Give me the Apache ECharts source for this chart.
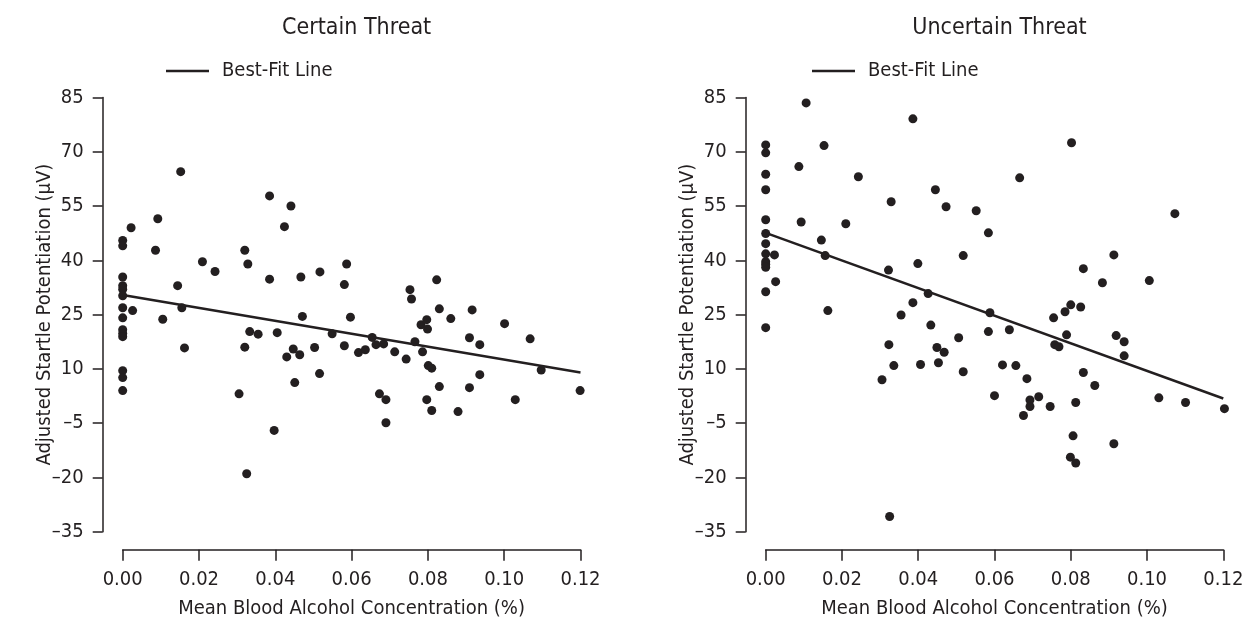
<!DOCTYPE html>
<html>
<head>
<meta charset="utf-8">
<script src="https://cdn.jsdelivr.net/npm/echarts@6/dist/echarts.min.js"></script>
<style>
  html, body { margin: 0; padding: 0; background: #fff; }
  #chart { width: 1252px; height: 627px; }
</style>
</head>
<body>
<div id="chart"></div>
<script>
// panel titles
const panelTitles = ["Certain Threat", "Uncertain Threat"];

// [BAC, startle]
const certainPoints = [
    [0, 45.5], [0, 44.0], [0, 35.4], [0, 33.0], [0, 32.0], [0, 30.2], [0, 26.9], [0, 24.1],
    [0, 20.8], [0, 19.8], [0, 18.9], [0, 9.5], [0, 7.6], [0, 4.0],
    [0.0022, 49.0], [0.0026, 26.1], [0.0086, 42.8], [0.0092, 51.5], [0.0105, 23.7],
    [0.0144, 33.0], [0.0152, 64.5], [0.0155, 26.9], [0.0162, 15.8], [0.0209, 39.6],
    [0.0242, 36.9], [0.0305, 3.1], [0.0320, 42.8], [0.0320, 16.0], [0.0325, -19.0],
    [0.0328, 39.0], [0.0333, 20.3], [0.0355, 19.6], [0.0385, 57.8], [0.0385, 34.8],
    [0.0397, -7.0], [0.0405, 20.0], [0.0424, 49.3], [0.0430, 13.3], [0.0441, 55.0],
    [0.0447, 15.5], [0.0451, 6.2], [0.0464, 13.9], [0.0467, 35.4], [0.0471, 24.5],
    [0.0503, 15.9], [0.0516, 8.7], [0.0517, 36.8], [0.0549, 19.7], [0.0581, 33.3],
    [0.0581, 16.4], [0.0587, 39.0], [0.0597, 24.3], [0.0618, 14.5], [0.0636, 15.3],
    [0.0654, 18.7], [0.0664, 16.7], [0.0673, 3.1], [0.0684, 16.9], [0.0690, 1.5],
    [0.0690, -4.9], [0.0713, 14.7], [0.0743, 12.7], [0.0753, 31.9], [0.0757, 29.3],
    [0.0766, 17.5], [0.0782, 22.2], [0.0786, 14.7], [0.0797, 23.6], [0.0797, 1.5],
    [0.0799, 21.0], [0.0801, 10.9], [0.0810, 10.2], [0.0810, -1.5], [0.0823, 34.6],
    [0.0830, 26.6], [0.0830, 5.1], [0.0860, 23.9], [0.0879, -1.8], [0.0909, 18.6],
    [0.0909, 4.8], [0.0916, 26.3], [0.0936, 16.7], [0.0936, 8.4], [0.1001, 22.5],
    [0.1029, 1.5], [0.1068, 18.3], [0.1097, 9.7], [0.1199, 4.0]
];

const uncertainPoints = [
    [0, 71.9], [0, 69.7], [0, 63.8], [0, 59.5], [0, 51.2], [0, 47.4], [0, 44.6], [0, 41.8],
    [0, 39.6], [0, 38.9], [0, 38.1], [0, 31.3], [0, 21.4],
    [0.0023, 41.5], [0.0026, 34.1], [0.0087, 65.9], [0.0093, 50.6], [0.0106, 83.5],
    [0.0146, 45.6], [0.0153, 71.7], [0.0156, 41.3], [0.0163, 26.1], [0.0210, 50.1],
    [0.0243, 63.1], [0.0305, 7.0], [0.0322, 37.3], [0.0323, 16.7], [0.0325, -30.8],
    [0.0329, 56.2], [0.0336, 10.9], [0.0355, 24.9], [0.0386, 79.1], [0.0386, 28.3],
    [0.0399, 39.1], [0.0406, 11.2], [0.0426, 30.8], [0.0433, 22.1], [0.0445, 59.5],
    [0.0449, 15.9], [0.0453, 11.7], [0.0468, 14.6], [0.0473, 54.8], [0.0506, 18.6],
    [0.0518, 41.3], [0.0518, 9.2], [0.0552, 53.7], [0.0584, 47.6], [0.0584, 20.3],
    [0.0588, 25.5], [0.0600, 2.6], [0.0621, 11.1], [0.0639, 20.8], [0.0656, 10.9],
    [0.0666, 62.8], [0.0676, -2.9], [0.0685, 7.3], [0.0693, 1.4], [0.0693, -0.4],
    [0.0716, 2.3], [0.0746, -0.4], [0.0755, 24.1], [0.0758, 16.7], [0.0769, 16.1],
    [0.0785, 25.8], [0.0789, 19.4], [0.0799, -14.4], [0.0800, 27.7], [0.0802, 72.5],
    [0.0806, -8.5], [0.0813, 0.7], [0.0813, -16.0], [0.0826, 27.1], [0.0833, 37.7],
    [0.0833, 9.0], [0.0863, 5.4], [0.0883, 33.8], [0.0913, 41.5], [0.0913, -10.7],
    [0.0919, 19.2], [0.0940, 17.5], [0.0940, 13.6], [0.1006, 34.4], [0.1031, 2.0],
    [0.1073, 52.9], [0.1101, 0.7], [0.1203, -1.0]
];

// best-fit line end points
const certainFit = [[0, 30.4], [0.12, 9.0]];
const uncertainFit = [[0, 47.6], [0.12, 1.8]];

// axes
const xTicks = { min: 0, max: 0.12, step: 0.02 };
const yTicks = { min: -35, max: 85, step: 15 };

const FONT = "'DejaVu Sans Condensed', 'Liberation Sans Narrow', sans-serif";
const INK = "#231f20";

function xAxisFor (gridIndex) {
    return {
        gridIndex: gridIndex,
        type: "value",
        min: xTicks.min,
        max: xTicks.max,
        interval: xTicks.step,
        offset: 18,
        name: "Mean Blood Alcohol Concentration (%)",
        nameLocation: "middle",
        nameGap: 49,
        nameTextStyle: { fontFamily: FONT, fontSize: 20, color: INK },
        splitLine: { show: false },
        axisLine: { onZero: false, lineStyle: { color: INK, width: 1.5 } },
        axisTick: { length: 11, lineStyle: { color: INK, width: 1.5 } },
        axisLabel: {
            fontFamily: FONT, fontSize: 20, color: INK, margin: 20,
            formatter: v => v.toFixed(2)
        }
    };
}

function yAxisFor (gridIndex) {
    return {
        gridIndex: gridIndex,
        type: "value",
        min: yTicks.min,
        max: yTicks.max,
        interval: yTicks.step,
        offset: 20,
        name: "Adjusted Startle Potentiation (\u03bcV)",
        nameLocation: "middle",
        nameGap: 48,
        nameMoveOverlap: false,
        nameRotate: 90,
        nameTextStyle: { fontFamily: FONT, fontSize: 20, color: INK },
        splitLine: { show: false },
        axisLine: { onZero: false, lineStyle: { color: INK, width: 1.5 } },
        axisTick: { length: 10, lineStyle: { color: INK, width: 1.5 } },
        axisLabel: {
            fontFamily: FONT, fontSize: 20, color: INK, margin: 19,
            formatter: v => String(Math.round(v)).replace("-", "\u2013")
        }
    };
}

const legendText = { fontFamily: FONT, fontSize: 20, color: INK, padding: [0, 0, 0, 8] };

const chart = echarts.init(document.getElementById("chart"));
const option = {
    animation: false,
    title: [
        { text: panelTitles[0], left: 351.6, top: 12, textAlign: "center",
          textStyle: { fontFamily: FONT, fontSize: 23, fontWeight: "normal", color: INK } },
        { text: panelTitles[1], left: 994.5, top: 12, textAlign: "center",
          textStyle: { fontFamily: FONT, fontSize: 23, fontWeight: "normal", color: INK } }
    ],
    legend: [
        { left: 166, top: 61, padding: 0, icon: "rect", itemWidth: 43, itemHeight: 2.5,
          data: ["Best-Fit Line"], textStyle: legendText },
        { left: 812, top: 61, padding: 0, icon: "rect", itemWidth: 43, itemHeight: 2.5,
          data: ["Best-Fit Line "], textStyle: legendText, formatter: n => n.trim() }
    ],
    grid: [
        { left: 122.7, right: 671.5, top: 97.5, bottom: 95.3 },
        { left: 765.7, right: 28.7, top: 97.5, bottom: 95.3 }
    ],
    xAxis: [xAxisFor(0), xAxisFor(1)],
    yAxis: [yAxisFor(0), yAxisFor(1)],
    series: [
        { type: "scatter", xAxisIndex: 0, yAxisIndex: 0, data: certainPoints, clip: false,
          symbolSize: 9, itemStyle: { color: INK, opacity: 1 } },
        { name: "Best-Fit Line", type: "line", xAxisIndex: 0, yAxisIndex: 0, data: certainFit,
          symbol: "none", lineStyle: { color: INK, width: 2.5 }, itemStyle: { color: INK } },
        { type: "scatter", xAxisIndex: 1, yAxisIndex: 1, data: uncertainPoints, clip: false,
          symbolSize: 9, itemStyle: { color: INK, opacity: 1 } },
        { name: "Best-Fit Line ", type: "line", xAxisIndex: 1, yAxisIndex: 1, data: uncertainFit,
          symbol: "none", lineStyle: { color: INK, width: 2.5 }, itemStyle: { color: INK } }
    ]
};
chart.setOption(option);
</script>
</body>
</html>
